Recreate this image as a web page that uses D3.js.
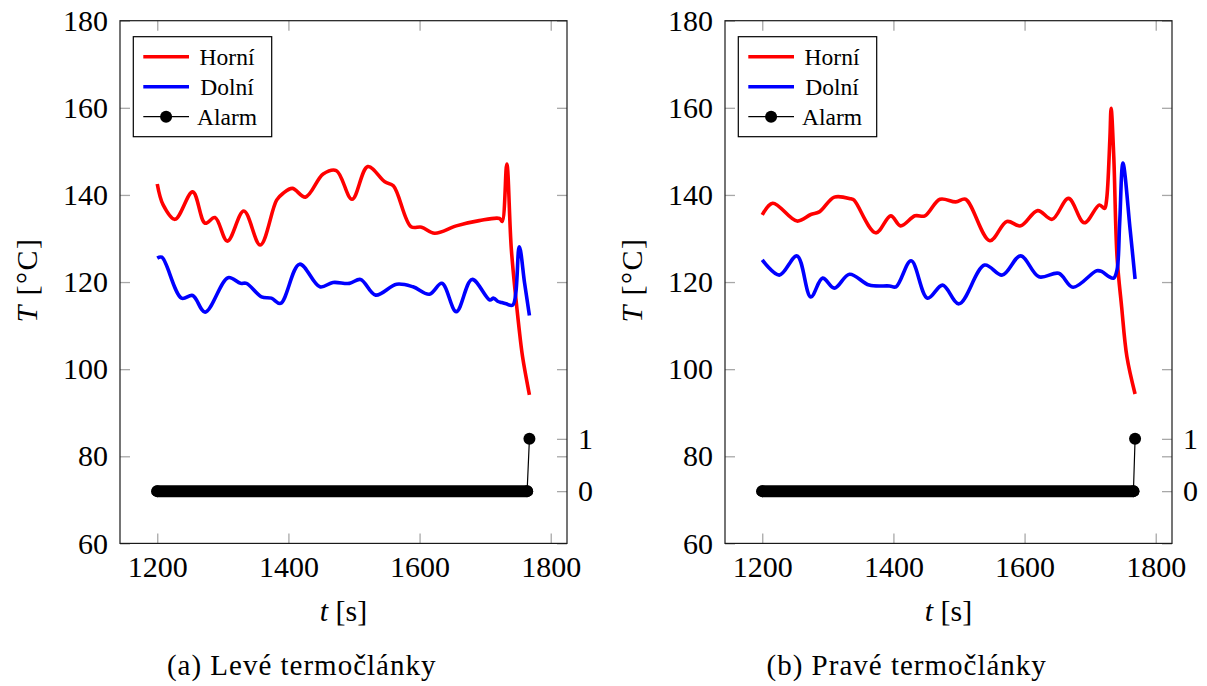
<!DOCTYPE html>
<html>
<head>
<meta charset="utf-8">
<script src="https://cdn.jsdelivr.net/npm/d3@7"></script>
<style>
  body { margin: 0; background: #fff; }
  svg { display: block; }
  svg text { font-family: "Liberation Serif", "Times New Roman", serif; }
</style>
</head>
<body>
<svg id="chart" width="1207" height="686"></svg>
<script>
// levé termočlánky
var levyHorniT = [1200, 1209, 1227, 1254, 1273, 1288, 1307, 1332, 1357, 1382, 1392, 1406, 1426, 1453, 1473, 1497, 1521, 1547, 1560, 1587, 1603, 1623, 1656, 1691, 1722, 1726, 1733, 1740, 1752, 1757, 1767.5];
var levyHorniV = [142.5, 137.7, 134.4, 140.7, 133.5, 134.8, 129.4, 136.3, 128.5, 138.8, 140.4, 141.5, 139.5, 144.8, 145.6, 139.0, 146.5, 143.0, 142.1, 132.7, 132.6, 131.2, 132.9, 134.1, 134.6, 133.9, 147.1, 127.4, 109.0, 102.9, 94.1];
var levyDolniT = [1200, 1207, 1237, 1254, 1273, 1308, 1327, 1336, 1359, 1374, 1388, 1417, 1448, 1468, 1493, 1510, 1533, 1565, 1590, 1615, 1634, 1656, 1680, 1707, 1713, 1719, 1725, 1732, 1742, 1752, 1760, 1767.5];
var levyDolniV = [125.5, 125.7, 116.3, 116.9, 113.1, 121.0, 119.7, 119.7, 116.6, 116.3, 115.1, 124.1, 118.9, 119.9, 119.7, 120.6, 117.0, 119.5, 118.9, 117.2, 119.7, 113.2, 120.6, 115.9, 116.3, 115.6, 115.3, 115.0, 114.7, 128.1, 119.9, 112.3];
var levyAlarmT = [1200, 1764, 1767.5];
var levyAlarmV = [0, 0, 1];

// pravé termočlánky
var pravyHorniT = [1200, 1216, 1253, 1274, 1287, 1310, 1335, 1340, 1373, 1396, 1411, 1433, 1448, 1471, 1495, 1510, 1547, 1573, 1594, 1620, 1642, 1667, 1691, 1714, 1722, 1725, 1730, 1732, 1736, 1741, 1748, 1756, 1768.5];
var pravyHorniV = [135.4, 138.1, 134.0, 135.5, 136.1, 139.5, 139.1, 138.8, 131.3, 135.2, 132.9, 135.2, 135.2, 139.0, 138.4, 139.0, 129.5, 133.9, 132.9, 136.4, 134.4, 139.2, 133.6, 137.7, 136.9, 138.8, 152.6, 159.9, 148.8, 125.8, 114.3, 102.9, 94.3];
var pravyDolniT = [1200, 1226, 1253, 1274, 1292, 1310, 1333, 1363, 1394, 1404, 1427, 1452, 1475, 1500, 1539, 1566, 1594, 1622, 1652, 1674, 1710, 1718, 1728, 1736, 1741, 1745, 1750, 1761, 1768.5];
var pravyDolniV = [125.1, 121.6, 126.0, 116.6, 120.9, 118.6, 121.8, 119.3, 119.1, 118.9, 124.9, 116.3, 119.3, 115.0, 123.9, 121.6, 126.0, 121.2, 122.0, 118.8, 122.6, 122.4, 121.3, 120.9, 122.8, 133.5, 147.3, 132.0, 120.7];
var pravyAlarmT = [1200, 1766, 1768.5];
var pravyAlarmV = [0, 0, 1];

var xTicks = [1200, 1400, 1600, 1800];
var yTicks = [60, 80, 100, 120, 140, 160, 180];
var alarmTicks = [0, 1];
var legendLabels = ["Horní", "Dolní", "Alarm"];
var captions = ["(a) Levé termočlánky", "(b) Pravé termočlánky"];

var svg = d3.select("#chart");
var W = 447, H = 522.7, TOP = 20.7;
var tickGrey = "#a8a8a8";
var fmt = d3.format("d");

function zip(ts, vs) {
  return ts.map(function(t, i) { return [t, vs[i]]; });
}

function drawPanel(left, capX, caption, horni, dolni, alarm) {
  var g = svg.append("g").attr("transform", "translate(" + left + "," + TOP + ")");
  var x = d3.scaleLinear().domain([1143.2, 1824.8]).range([0, W]);
  var y = d3.scaleLinear().domain([60, 180]).range([H, 0]);
  var yA = d3.scaleLinear().domain([-1, 9]).range([H, 0]);

  // osy - ticky dovnitř
  var ax = [
    g.append("g").attr("transform", "translate(0," + H + ")")
      .call(d3.axisBottom(x).tickValues(xTicks).tickFormat(fmt).tickSize(-10).tickPadding(12)),
    g.append("g").call(d3.axisTop(x).tickValues(xTicks).tickSize(-10).tickFormat("")),
    g.append("g").call(d3.axisLeft(y).tickValues(yTicks).tickFormat(fmt).tickSize(-10).tickPadding(12)),
    g.append("g").attr("transform", "translate(" + W + ",0)")
      .call(d3.axisRight(y).tickValues(yTicks).tickSize(-10).tickFormat("")),
    g.append("g").attr("transform", "translate(" + W + ",0)")
      .call(d3.axisRight(yA).tickValues(alarmTicks).tickFormat(fmt).tickSize(-10).tickPadding(11))
  ];
  ax.forEach(function(a) {
    a.attr("font-family", null).attr("font-size", null);
    a.select(".domain").remove();
    a.selectAll(".tick line").attr("stroke", tickGrey).attr("stroke-width", 1.3);
    a.selectAll(".tick text").attr("font-size", 30).attr("fill", "#000");
  });

  var line = d3.line()
    .x(function(d) { return x(d[0]); })
    .y(function(d) { return y(d[1]); })
    .curve(d3.curveCatmullRom.alpha(0.5));

  g.append("path").datum(horni)
    .attr("d", line).attr("fill", "none")
    .attr("stroke", "#ff0000").attr("stroke-width", 3.6).attr("stroke-linejoin", "round");
  g.append("path").datum(dolni)
    .attr("d", line).attr("fill", "none")
    .attr("stroke", "#0000ff").attr("stroke-width", 3.6).attr("stroke-linejoin", "round");

  // alarm: hustě položené značky -> tlustý pruh
  var aLine = d3.line()
    .x(function(d) { return x(d[0]); })
    .y(function(d) { return yA(d[1]); });
  g.append("path").datum(alarm.filter(function(d) { return d[1] === 0; }))
    .attr("d", aLine).attr("fill", "none")
    .attr("stroke", "#000").attr("stroke-width", 12).attr("stroke-linecap", "round");
  g.append("path").datum(alarm)
    .attr("d", aLine).attr("fill", "none")
    .attr("stroke", "#000").attr("stroke-width", 1.2);
  g.selectAll(".mark").data(alarm).enter().append("circle")
    .attr("cx", function(d) { return x(d[0]); })
    .attr("cy", function(d) { return yA(d[1]); })
    .attr("r", 6).attr("fill", "#000");

  g.append("rect").attr("width", W).attr("height", H)
    .attr("fill", "none").attr("stroke", "#1a1a1a").attr("stroke-width", 1.2);

  // legenda
  var lg = g.append("g").attr("transform", "translate(13.3,16)");
  lg.append("rect").attr("width", 138.4).attr("height", 100)
    .attr("fill", "#fff").attr("stroke", "#000").attr("stroke-width", 1.2);
  var colors = ["#ff0000", "#0000ff", "#000"];
  legendLabels.forEach(function(lab, i) {
    var yy = 20 + i * 30;
    lg.append("line").attr("x1", 10).attr("x2", 55.7).attr("y1", yy).attr("y2", yy)
      .attr("stroke", colors[i]).attr("stroke-width", i < 2 ? 3.6 : 1.2);
    if (i === 2) lg.append("circle").attr("cx", 32.8).attr("cy", yy).attr("r", 6).attr("fill", "#000");
    lg.append("text").attr("x", 93.7).attr("y", yy).attr("dy", "0.35em")
      .attr("text-anchor", "middle").attr("font-size", 23.5).text(lab);
  });

  // popisky os
  var xl = g.append("text").attr("x", W / 2).attr("y", 621 - TOP)
    .attr("text-anchor", "middle").attr("font-size", 30);
  xl.append("tspan").attr("font-style", "italic").text("t");
  xl.append("tspan").text(" [s]");

  var yl = svg.append("text")
    .attr("transform", "translate(" + (left - 83) + ",280) rotate(-90)")
    .attr("text-anchor", "middle").attr("font-size", 30).attr("letter-spacing", 1.5);
  yl.append("tspan").attr("font-style", "italic").text("T");
  yl.append("tspan").text(" [°C]");

  svg.append("text").attr("x", capX).attr("y", 675)
    .attr("text-anchor", "middle").attr("font-size", 29).attr("letter-spacing", 1)
    .text(caption);
}

drawPanel(120, 301.7, captions[0],
  zip(levyHorniT, levyHorniV), zip(levyDolniT, levyDolniV), zip(levyAlarmT, levyAlarmV));
drawPanel(725, 906.7, captions[1],
  zip(pravyHorniT, pravyHorniV), zip(pravyDolniT, pravyDolniV), zip(pravyAlarmT, pravyAlarmV));
</script>
</body>
</html>
